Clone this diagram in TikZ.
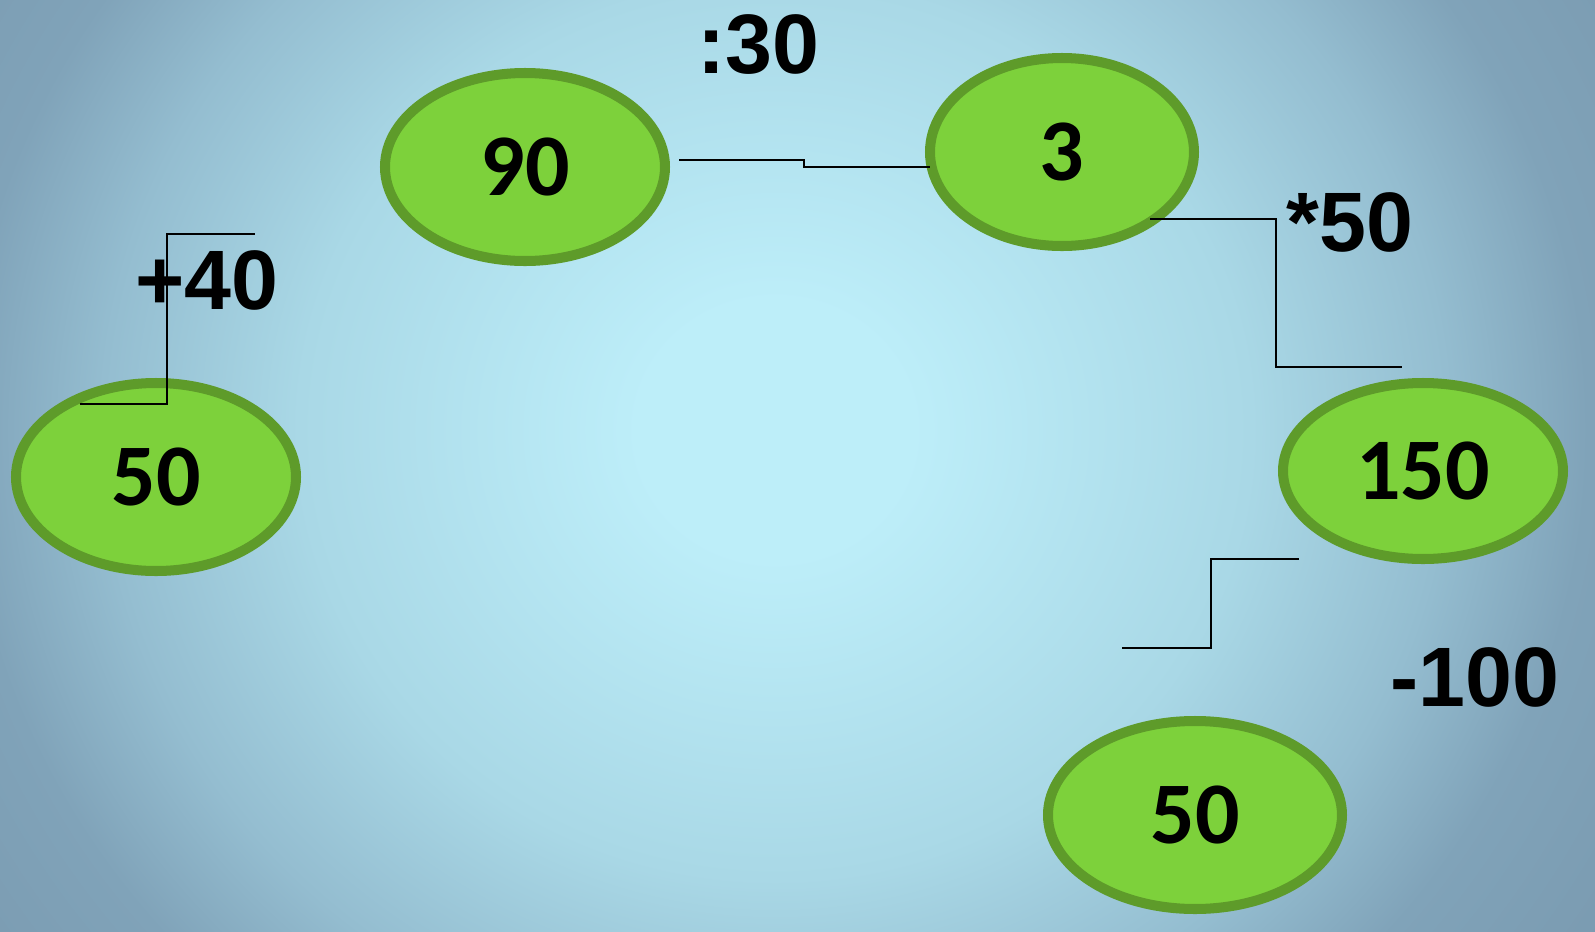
\documentclass[tikz,border=0pt]{standalone}
\usepackage{fontspec}
\usepackage{xcolor}
\usepackage{tikz}
\usetikzlibrary{shapes.geometric}

\newfontfamily\ovalfont{Carlito}
\newfontfamily\stepfont{Liberation Sans}

\definecolor{bgin}{HTML}{BDEEF9}
\definecolor{bgtop}{HTML}{A9D8E6}
\definecolor{bgmid}{HTML}{94BDD0}
\definecolor{bgside}{HTML}{80A3B9}
\definecolor{bgout}{HTML}{7A9AB0}
\definecolor{ovalfill}{HTML}{7DD13B}
\definecolor{ovaldraw}{HTML}{5E9B2A}

\pgfdeclareradialshading{slidebg}{\pgfpoint{0bp}{0bp}}{%
  color(0bp)=(bgin); color(4bp)=(bgin); color(14bp)=(bgtop);
  color(19.8bp)=(bgmid); color(23.9bp)=(bgside); color(29.6bp)=(bgout);
  color(50bp)=(bgout)}

\tikzset{
  oval/.style={ellipse, draw=ovaldraw, fill=ovalfill, line width=2.85pt,
    inner sep=0pt, font=\ovalfont\bfseries\fontsize{25}{30}\selectfont},
  oplabel/.style={font=\stepfont\bfseries\fontsize{24}{28}\selectfont},
  elbow/.style={black, line width=0.6pt}
}

\begin{document}
\begin{tikzpicture}
  \useasboundingbox (0,0) rectangle (15.95,-9.32);

  % background
  \begin{scope}
    \clip (0,0) rectangle (15.95,-9.32);
    \shade[overlay, shading=slidebg] (7.75-8.50,-4.30+8.01) rectangle (7.75+8.50,-4.30-8.01);
  \end{scope}

  % numbers
  \node[oval, minimum width=2.80cm, minimum height=1.88cm] (n90) at (5.25,-1.67) {90};
  \node[oval, minimum width=2.64cm, minimum height=1.88cm] (n3) at (10.62,-1.52) {3};
  \node[oval, minimum width=2.80cm, minimum height=1.76cm] (n150) at (14.23,-4.71) {150};
  \node[oval, minimum width=2.94cm, minimum height=1.88cm] (n50b) at (11.95,-8.15) {50};
  \node[oval, minimum width=2.80cm, minimum height=1.88cm] (n50a) at (1.56,-4.77) {50};

  % operations
  \node[oplabel] (div) at (7.58,-0.45) {:30};
  \node[oplabel] (mul) at (13.50,-2.22) {*50};
  \node[oplabel] (sub) at (14.75,-6.77) {-100};
  \node[oplabel] (add) at (2.07,-2.80) {+40};

  % elbow connectors
  \coordinate (d1) at (6.79,-1.60);  \coordinate (d2) at (9.30,-1.67);
  \coordinate (m1) at (11.50,-2.19); \coordinate (m2) at (14.02,-3.67);
  \coordinate (s1) at (12.99,-5.59); \coordinate (s2) at (11.22,-6.48);
  \coordinate (a1) at (0.80,-4.04);  \coordinate (a2) at (2.55,-2.34);

  \draw[elbow] (d1) -- ++(1.25,0) |- (d2);
  \draw[elbow] (m1) -- ++(1.26,0) |- (m2);
  \draw[elbow] (s1) -- ++(-0.88,0) |- (s2);
  \draw[elbow] (a1) -- ++(0.87,0) |- (a2);
\end{tikzpicture}
\end{document}
